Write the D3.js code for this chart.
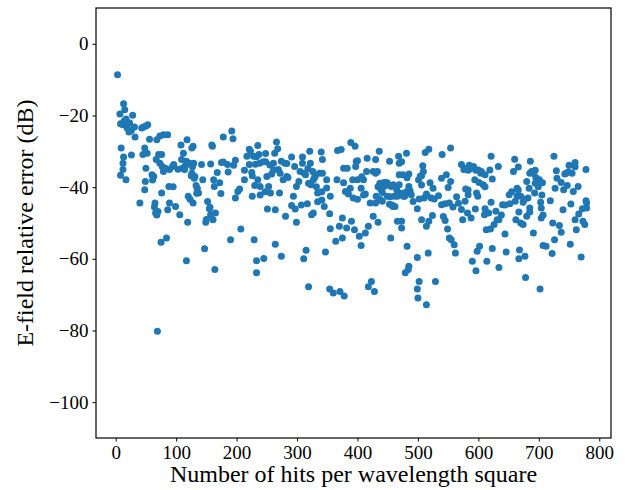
<!DOCTYPE html>
<html>
<head>
<meta charset="utf-8">
<script src="https://cdn.jsdelivr.net/npm/d3@7"></script>
<style>
  body { margin: 0; background: #fff; }
  text { font-family: "Liberation Serif", "DejaVu Serif", serif; }
</style>
</head>
<body>
<div id="chart"></div>
<script>
// Readings, grouped by x range (same grouping in both arrays).
var hits = [
  3,13,7,15,8,12,17,19,23,28,31,26,9,13,8,12,12,17,26,32,40,43,46,50,53,45,48,50,49,48,
  52,56,63,65,66,68,69,73,76,79,67,73,77,79,82,86,71,75,76,84,86,88,89,89,94,96,99,
  64,68,70,60,61,20,14,22,
  106,108,109,110,112,114,117,118,119,117,120,123,126,128,126,128,129,131,135,137,
  142,144,147,149,156,157,159,160,157,161,162,163,164,165,168,172,174,175,178,178,
  185,186,190,192,194,195,198,198,
  103,115,122,125,130,133,150,152,155,
  202,205,207,213,213,217,221,221,223,225,226,226,228,229,230,231,233,233,235,235,
  237,238,239,245,248,248,250,251,253,256,258,261,263,264,264,266,268,269,271,274,
  274,277,280,281,283,285,291,291,294,296,297,299,299,
  303,305,309,309,311,312,314,315,317,319,321,322,323,324,327,327,330,334,334,337,
  340,342,342,345,347,349,349,354,354,355,355,360,364,366,367,370,371,373,375,375,
  377,377,378,380,382,383,385,389,390,392,393,395,396,398,397,
  400,400,403,406,406,410,413,413,415,416,418,418,421,423,426,426,428,430,430,431,
  433,434,436,437,439,441,443,446,449,453,453,455,456,458,459,461,466,466,468,469,
  469,473,473,475,478,479,481,482,482,484,485,485,485,487,489,492,499,499,499,400,
  430,441,444,449,459,462,469,476,
  500,501,502,502,506,506,508,509,510,512,514,514,515,517,518,518,520,522,524,527,
  529,534,539,539,540,542,545,545,547,549,550,552,552,554,554,555,558,560,562,564,
  572,572,574,576,578,579,582,583,583,585,587,588,590,592,594,595,596,597,598,599,
  601,602,604,605,608,610,611,611,613,614,617,620,621,621,623,623,626,629,631,633,
  634,634,640,644,646,651,652,658,660,661,662,664,664,666,667,667,668,670,670,674,
  674,676,677,678,680,680,682,684,685,686,688,691,693,694,695,
  701,702,703,704,704,706,707,712,719,722,723,725,726,727,729,730,734,737,737,740,
  741,743,745,747,750,752,753,755,757,760,760,762,765,766,770,772,773,776,778,778,
  779,779,
  // dense band, second pass
  123,127,233,244,255,261,272,283,247,239,318,329,326,319,332,307,95,134,
  473,388,407,410,434,437,451,454,457,465,473,481,504,506,514,525,567,580,341,341,
  691,685,760,749,596,600,619,611,583,644,655,666,694,699,705,638,685,707
];

var errorDb = [
  -8.6,-16.7,-19.6,-18.4,-22.3,-22.6,-21,-23.5,-22.1,-19.9,-23.2,-24.2,-29.1,-31.6,-36.7,-35.1,-33.3,-37.9,-31,-26,-44.4,-23.5,-23.2,-22.9,-22.6,-30.9,-29.1,-34.7,-38.4,-40.7,
  -30.5,-26.6,-37,-44.4,-47.2,-26.8,-80.2,-25.7,-30.9,-25.4,-32.3,-33.3,-34.2,-35.6,-34.7,-25.4,-30.9,-55.4,-41.6,-54.2,-46.3,-39.8,-44.4,-35.1,-34.2,-33.7,-45.4,
  -45.5,-47.8,-46.8,-36.5,-38,-22,-21.5,-24.6,
  -47.7,-28.2,-32.3,-34.7,-30.5,-35.1,-32.8,-26.8,-49.8,-60.5,-42.5,-43.4,-29.1,-28.6,-36.1,-44.4,-33.3,-37,-40.3,-41.6,
  -33.7,-37.9,-57.2,-49.8,-45.6,-33.5,-28.2,-28.6,-47.7,-49.1,-37.9,-39.8,-63.0,-47.2,-35.9,-38.8,-41.8,-33.1,-26,-33,
  -33.7,-35.8,-54.7,-24.3,-26.5,-33.9,-32.5,-43,
  -35,-34,-33.5,-36.8,-37.5,-39.5,-49,-44,-46,
  -41.2,-40.5,-51.7,-37.9,-35.3,-31.4,-29.4,-33.7,-30,-35.9,-36.8,-42.5,-31.4,-54.7,-39.5,-33.6,-60.5,-63.9,-28.4,-37.9,
  -30.9,-33.3,-39.8,-59.9,-30.6,-32.9,-37,-46.1,-39.8,-41.6,-36.3,-33.3,-30.5,-55.9,-46.3,-27.4,-29.3,-35.1,-41.6,-59.3,
  -32.8,-37.9,-33.3,-48.1,-37,-37.3,-31.6,-45.1,-42.5,-34.2,-46.1,-49.8,-39.8,
  -38.4,-35.6,-31.6,-33.3,-60,-36.1,-36.5,-57.6,-44.6,-67.8,-30,-33.3,-39.3,-47.7,-47.2,-37.9,-37,-41.6,-44.1,-36.1,
  -30.2,-36.1,-32.3,-45.4,-58.1,-40.2,-37.9,-47.4,-68.4,-42.5,-51.6,-69.5,-55.1,-37.9,-29.8,-50.9,-69.1,-29.5,-54.2,-48.6,
  -38.8,-34.7,-70.4,-41.2,-51.4,-34.7,-41.9,-27.5,-49.5,-37.9,-43,-51.9,-28.6,-32.8,-34.2,
  -37.9,-43.4,-53.7,-56.3,-40.3,-37.9,-41.9,-52.8,-35.6,-31.9,-50.9,-67.8,-44.4,-66.3,-48.1,-35.6,-69.1,-32.3,-44.4,-42.5,
  -35.6,-49.8,-30,-43.4,-40.7,-43.9,-38.8,-38.7,-42.5,-32.8,-44.8,-54.2,-39.8,-45.2,-39.3,-42.5,-42.5,-49.5,-31.4,-33.3,
  -36.5,-49.5,-51.4,-36.5,-42.5,-63.9,-30.5,-37.4,-56.5,-63,-62.1,-39.8,-36.3,-41,-42.1,-44,-46,-59.6,-68.4,-32.6,
  -36.1,-41.5,-39.8,-38.8,-45.4,-45.4,-39.3,-42.5,
  -70.9,-37.9,-43.3,-66.3,-36.8,-49.1,-34,-35.6,-43,-30.3,-72.8,-50.9,-42.4,-58.4,-29.4,-49.5,-38.8,-43,-47.9,-43.3,
  -66.3,-42.4,-37.5,-44.9,-30.9,-48.2,-49.3,-44.6,-36.5,-51.7,-40.1,-54.2,-44.4,-29.1,-38.4,-54.7,-45.5,-56.1,-58.4,-42.7,
  -33.7,-46.2,-49.1,-35.1,-43.9,-40.5,-47.2,-42.1,-35.3,-33.9,-34.8,-48.6,-60.7,-34.2,-37.9,-46.1,-63.3,-41.6,-57.9,-42.5,
  -38.7,-56.5,-36.1,-35.6,-39.3,-47.7,-36.5,-46,-51.9,-60.7,-47.2,-51.7,-31.4,-44.2,-57.1,-37.7,-50.4,-46.7,-49.1,-34.2,
  -62.4,-49.1,-44.9,-53.1,-58.1,-42.1,-44.6,-35.6,-32.2,-43.9,-49.1,-40.3,-42.5,-34.4,-46.9,-60,-57.5,-50,-42.5,-44.2,
  -50.4,-43.4,-59.3,-65.2,-48.1,-38.4,-43,-40.3,-45.8,-32.8,-35.6,-52.8,-41.6,-35.3,-37.3,
  -37.9,-68.4,-44.2,-45.8,-48.6,-38.8,-56.3,-56.5,-43.8,-58.5,-50,-31.4,-54.7,-40.3,-35.4,-37.5,-50.7,-52.6,-38.7,-46.3,
  -40.7,-36.3,-36.1,-39.5,-33.9,-55.9,-44.7,-36.1,-41.2,-33.1,-49.1,-51.9,-39.8,-47.5,-59.5,-46,-49.5,-50.4,-35.1,-43.8,
  -45.8,-44.4,
  // dense band, second pass
  -33.4,-34.3,-31.5,-32.9,-33.8,-35.2,-36.1,-33.4,-41.3,-42.2,-34.8,-37.2,-35.6,-38.9,-39.9,-45,-39.9,-41.7,
  -32.9,-40.3,-37.1,-42.2,-39.9,-38.9,-39.4,-42.7,-45,-40.8,-41.7,-41.3,-36.9,-39.4,-41.9,-40.3,-44.5,-34.7,-41.3,-43.6,
  -36.1,-36.1,-34.3,-35.7,-35.3,-35.2,-35.2,-39.9,-40.8,-45,-41.3,-40.8,-38.9,-39.9,-42.2,-47.8,-46.9,-47.8
];

var xTicks = [0, 100, 200, 300, 400, 500, 600, 700, 800];
var yTicks = [0, -20, -40, -60, -80, -100];

var width = 626, height = 490;
var margin = {top: 8, right: 15, bottom: 52, left: 96};

var svg = d3.select("#chart").append("svg")
    .attr("width", width)
    .attr("height", height);

var x = d3.scaleLinear()
    .domain([-32.6, 819.4])
    .range([margin.left, width - margin.right]);

var y = d3.scaleLinear()
    .domain([-110, 10])
    .range([height - margin.bottom, margin.top]);

// points
svg.append("g")
  .selectAll("circle")
  .data(d3.range(Math.min(hits.length, errorDb.length)))
  .enter().append("circle")
    .attr("cx", function(i) { return x(hits[i]); })
    .attr("cy", function(i) { return y(errorDb[i]); })
    .attr("r", 3.5)
    .style("fill", "#1f77b4");

// frame
svg.append("rect")
    .attr("x", margin.left)
    .attr("y", margin.top)
    .attr("width", width - margin.right - margin.left)
    .attr("height", height - margin.bottom - margin.top)
    .style("fill", "none")
    .style("stroke", "#000")
    .style("stroke-width", 1.2);

var xAxis = svg.append("g")
    .attr("transform", "translate(0," + (height - margin.bottom) + ")")
    .call(d3.axisBottom(x).tickValues(xTicks).tickSize(3.5).tickPadding(4));

var yAxis = svg.append("g")
    .attr("transform", "translate(" + margin.left + ",0)")
    .call(d3.axisLeft(y).tickValues(yTicks).tickSize(3.5).tickPadding(4));

[xAxis, yAxis].forEach(function(a) {
  a.select(".domain").remove();
  a.selectAll("text")
      .style("font-family", "'Liberation Serif', serif")
      .style("font-size", "19px")
      .style("fill", "#000");
  a.selectAll("line").style("stroke", "#000");
});

svg.append("text")
    .attr("x", (margin.left + width - margin.right) / 2)
    .attr("y", 482)
    .attr("text-anchor", "middle")
    .style("font-size", "24px")
    .text("Number of hits per wavelength square");

svg.append("text")
    .attr("transform", "translate(33," + ((margin.top + height - margin.bottom) / 2) + ") rotate(-90)")
    .attr("text-anchor", "middle")
    .style("font-size", "24px")
    .text("E-field relative error (dB)");
</script>
</body>
</html>
